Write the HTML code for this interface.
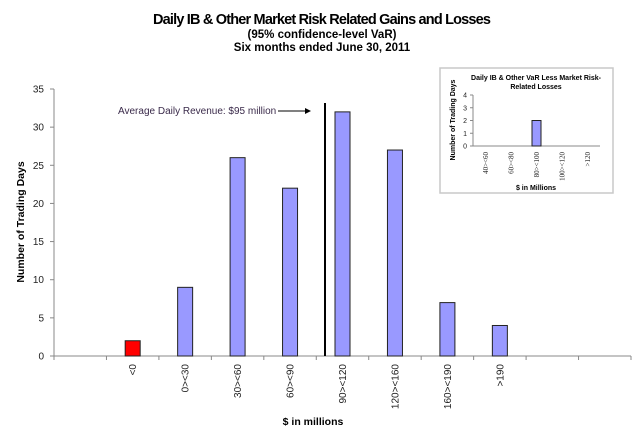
<!DOCTYPE html>
<html><head><meta charset="utf-8"><style>
html,body{margin:0;padding:0;background:#fff;}
svg{display:block;font-family:"Liberation Sans",Arial,sans-serif;}
</style></head><body>
<svg id="chart" width="642" height="448" viewBox="0 0 642 448">
  <g font-weight="bold" text-anchor="middle" fill="#000">
    <text x="322" y="24" font-size="14.5" textLength="338">Daily IB &amp; Other Market Risk Related Gains and Losses</text>
    <text x="322" y="38" font-size="11.5">(95% confidence-level  VaR)</text>
    <text x="322" y="51" font-size="11.5">Six months ended June 30, 2011</text>
  </g>
  <text transform="translate(24,222) rotate(-90)" text-anchor="middle" font-size="10.5" font-weight="bold">Number of Trading Days</text>
  <text x="313" y="425" text-anchor="middle" font-size="10.5" font-weight="bold">$ in millions</text>
  <g id="main"></g>
  <g id="avg">
    <line x1="325" y1="103" x2="325" y2="356" stroke="#000" stroke-width="2"/>
    <text x="118" y="114" font-size="10" fill="#3a2a4a">Average Daily Revenue:  $95 million</text>
    <line x1="278" y1="111" x2="305" y2="111" stroke="#000" stroke-width="1"/>
    <polygon points="305,108 311,111 305,114" fill="#000"/>
  </g>
  <rect x="440" y="68" width="173" height="125" fill="#fff" stroke="#c8c8c8" stroke-width="1.5"/>
  <text x="536" y="80" text-anchor="middle" font-size="7" font-weight="bold">Daily IB &amp; Other VaR Less Market Risk-</text>
  <text x="536" y="89" text-anchor="middle" font-size="7" font-weight="bold">Related Losses</text>
  <text transform="translate(455,120) rotate(-90)" text-anchor="middle" font-size="7" font-weight="bold">Number of Trading Days</text>
  <text x="536" y="190" text-anchor="middle" font-size="7" font-weight="bold">$ in Millions</text>
  <g id="inset"></g>
</svg>
<script>
const categories = ["<0","0><30","30><60","60><90","90><120","120><160","160><190",">190"];
const values = [2,9,26,22,32,27,7,4];
const yTicks = [0,5,10,15,20,25,30,35];
const insetCategories = ["40><60","60><80","80><100","100><120",">120"];
const insetValues = [0,0,2,0,0];
const insetTicks = [0,1,2,3,4];

const NS = "http://www.w3.org/2000/svg";
function mk(tag, attrs, parent){const e=document.createElementNS(NS,tag);for(const k in attrs)e.setAttribute(k,attrs[k]);parent.appendChild(e);return e;}

// main axes
const X0=54, X1=631, Y0=356, Y1=89, slots=11, yMax=35;
const slotW=(X1-X0)/slots;
const xPos = i => X0 + slotW*(i+1.5);
const yPos = v => Y0 - (Y0-Y1)*v/yMax;
const g=document.getElementById('main');
let ax=mk('line',{x1:X0,y1:Y1,x2:X0,y2:Y0,stroke:'#888'},g);


ax=mk('line',{x1:X0,y1:Y0,x2:X1,y2:Y0,stroke:'#888'},g);


yTicks.forEach(t=>{
  const y=yPos(t);
  mk('line',{x1:X0-4,y1:y,x2:X0,y2:y,stroke:'#888'},g);
  const tx=mk('text',{x:X0-10,y:y+3.5,'text-anchor':'end','font-size':'10',fill:'#222'},g);
  tx.textContent=t;
  
  
});
for(let i=0;i<=slots;i++){const x=X0+slotW*i;mk('line',{x1:x,y1:Y0,x2:x,y2:Y0+4,stroke:'#888'},g);}
categories.forEach((c,i)=>{
  const cx=xPos(i), v=values[i], bw=15;
  const r=mk('rect',{x:cx-bw/2,y:yPos(v),width:bw,height:Y0-yPos(v),fill:i===0?'#ff0000':'#9999ff',stroke:'#222','stroke-width':'1'},g);
  
  
  const t=mk('text',{transform:`translate(${cx+3.5},${Y0+8}) rotate(-90)`,'text-anchor':'end','font-size':'10',fill:'#222'},g);
  t.textContent=c;
  
  
});

// inset axes
const IX0=473, IX1=600, IY0=146, IY1=95, iMax=4;
const iw=(IX1-IX0)/insetCategories.length;
const ix = i => IX0 + iw*(i+0.5);
const iy = v => IY0 - (IY0-IY1)*v/iMax;
const h=document.getElementById('inset');
ax=mk('line',{x1:IX0,y1:IY1,x2:IX0,y2:IY0,stroke:'#888'},h);


ax=mk('line',{x1:IX0,y1:IY0,x2:IX1,y2:IY0,stroke:'#888'},h);


insetTicks.forEach(t=>{
  const y=iy(t);
  mk('line',{x1:IX0-3,y1:y,x2:IX0,y2:y,stroke:'#888'},h);
  const tx=mk('text',{x:IX0-6,y:y+2.5,'text-anchor':'end','font-size':'7',fill:'#222'},h);
  tx.textContent=t;
  
  
});
insetCategories.forEach((c,i)=>{
  const cx=ix(i), v=insetValues[i];
  if(v>0){
    const r=mk('rect',{x:cx-4.5,y:iy(v),width:9,height:IY0-iy(v),fill:'#9999ff',stroke:'#222','stroke-width':'1'},h);
    
    
  }
  const t=mk('text',{transform:`translate(${cx+2.5},${IY0+6}) rotate(-90)`,'text-anchor':'end','font-size':'7','font-family':'"Liberation Serif",serif',fill:'#222'},h);
  t.textContent=c;
  
  
});
</script>
</body></html>
